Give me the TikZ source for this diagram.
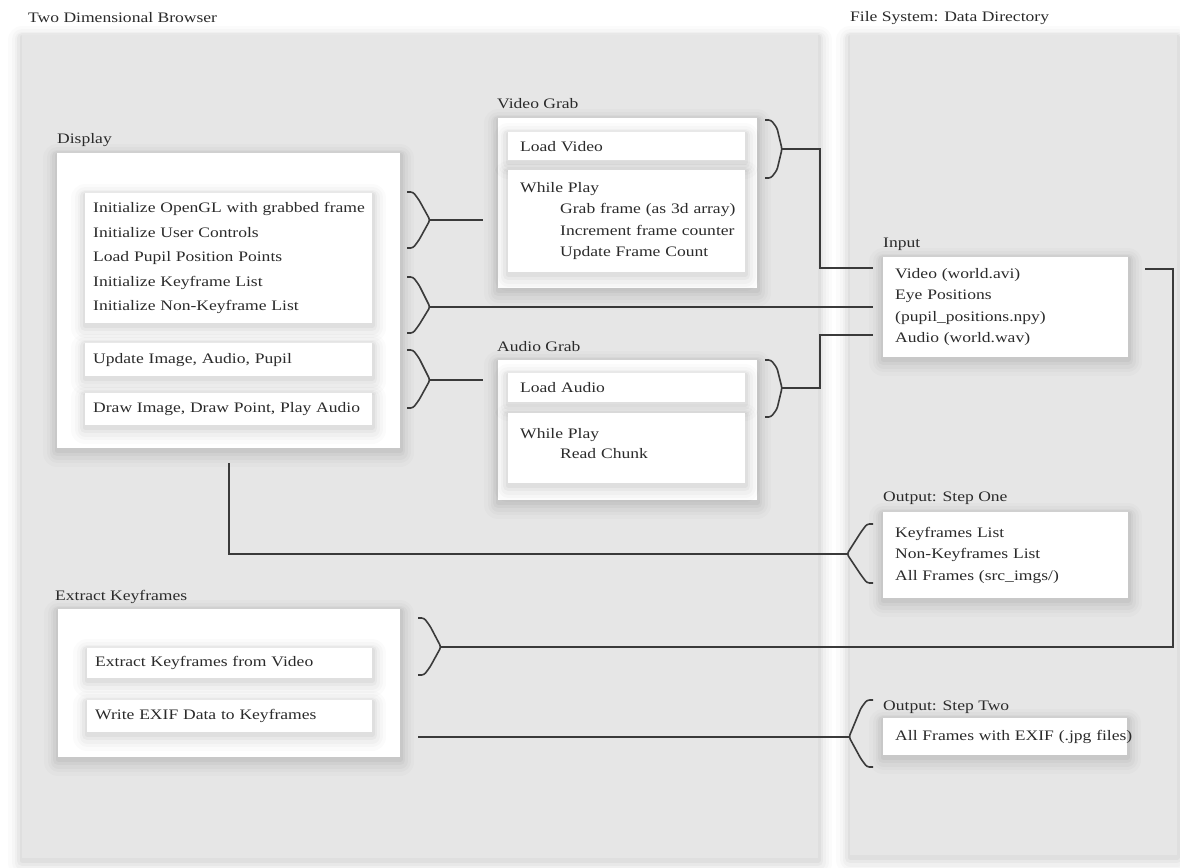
\documentclass[tikz,border=0pt]{standalone}
\usepackage{fontspec}
\setmainfont[FakeStretch=1.21]{Liberation Serif}
\usetikzlibrary{calc}
\definecolor{panelgray}{HTML}{E6E6E6}
\definecolor{ink}{HTML}{2A2A2A}
\definecolor{linec}{HTML}{3A3A3A}
\newcommand\oneln[1]{\mbox{#1}}
\tikzset{
  shd/.style={
    preaction={draw=black, draw opacity=0.015, line width=28pt, line join=round, transform canvas={yshift=-5pt}},
    preaction={draw=black, draw opacity=0.02, line width=21pt, line join=round, transform canvas={yshift=-4pt}},
    preaction={draw=black, draw opacity=0.025, line width=15pt, line join=round, transform canvas={yshift=-4pt}},
    preaction={draw=black, draw opacity=0.03, line width=10pt, line join=round, transform canvas={yshift=-3pt}},
    preaction={draw=black, draw opacity=0.035, line width=5pt, line join=round, transform canvas={yshift=-2pt}},
  },
  panel/.style={shd, fill=panelgray, anchor=north west, inner sep=0pt},
  obox/.style={shd, fill=white, anchor=north west, inner sep=0pt},
  wbox/.style={shd, fill=white, anchor=north west, inner xsep=8pt, inner ysep=0pt, align=left, text=ink},
  lbl/.style={anchor=west, inner sep=0pt, text=ink},
  conn/.style={draw=linec, line width=1.6pt},
  bracestyle/.style={draw=linec, line width=1.6pt, rounded corners=2.5pt},
}
% right-facing brace: name, x0 (stubs), xt (tip), ytop, ymid, ybottom
\newcommand\bracer[6]{%
  \draw[bracestyle] (#2,#4) -- (#2+6,#4) -- (#2+12,#4+8) -- (#3,#5) -- (#2+12,#6-8) -- (#2+6,#6) -- (#2,#6);
  \coordinate (#1) at (#3,#5);}
% left-facing brace
\newcommand\bracel[6]{%
  \draw[bracestyle] (#2,#4) -- (#2-6,#4) -- (#2-12,#4+8) -- (#3,#5) -- (#2-12,#6-8) -- (#2-6,#6) -- (#2,#6);
  \coordinate (#1) at (#3,#5);}
\begin{document}
\begin{tikzpicture}[x=1pt, y={(0pt,-1pt)}, font=\fontsize{14.5}{21.5}\selectfont]
\useasboundingbox (0,0) rectangle (1180,867);
\fill[white] (0,0) rectangle (1180,867);

% panels
\node[panel, minimum width=796, minimum height=823] (left) at (22,35) {};
\node[panel, minimum width=327, minimum height=820] (right) at (850,35) {};
\node[lbl] (ltitle) at (28,18) {Two Dimensional Browser};
\node[lbl] (rtitle) at (850,18) {File System: Data Directory};

% Display
\node[lbl] (displbl) at (57,140) {Display};
\node[obox, minimum width=343, minimum height=295] (disp) at (57,153) {};
\node[wbox, text width=271, minimum height=130, font=\fontsize{14.5}{24.5}\selectfont] (d1) at (85,193)
  {\oneln{Initialize OpenGL with grabbed frame}\\\oneln{Initialize User Controls}\\\oneln{Load Pupil Position Points}\\\oneln{Initialize Keyframe List}\\\oneln{Initialize Non-Keyframe List}};
\node[wbox, text width=271, minimum height=33] (d2) at (85,343) {\oneln{Update Image, Audio, Pupil}};
\node[wbox, text width=271, minimum height=32] (d3) at (85,393) {\oneln{Draw Image, Draw Point, Play Audio}};

% Video Grab
\node[lbl] (vglbl) at (497,104) {Video Grab};
\node[obox, minimum width=259, minimum height=170] (vg) at (498,118) {};
\node[wbox, inner xsep=12pt, text width=213, minimum height=28] (v1) at (508,132) {\oneln{Load Video}};
\node[wbox, inner xsep=12pt, text width=213, minimum height=102] (v2) at (508,170)
  {\oneln{While Play}\\\oneln{\hspace*{40pt}Grab frame (as 3d array)}\\\oneln{\hspace*{40pt}Increment frame counter}\\\oneln{\hspace*{40pt}Update Frame Count}};

% Audio Grab
\node[lbl] (aglbl) at (497,347) {Audio Grab};
\node[obox, minimum width=259, minimum height=140] (ag) at (498,360) {};
\node[wbox, inner xsep=12pt, text width=213, minimum height=29] (a1) at (508,373) {\oneln{Load Audio}};
\node[wbox, inner xsep=12pt, text width=213, minimum height=70, text depth=30pt, font=\fontsize{14.5}{20.5}\selectfont] (a2) at (508,413)
  {\oneln{While Play}\\\oneln{\hspace*{40pt}Read Chunk}};

% Extract Keyframes
\node[lbl] (exlbl) at (55,597) {Extract Keyframes};
\node[obox, minimum width=342, minimum height=148] (ex) at (58,609) {};
\node[wbox, text width=269, minimum height=30] (e1) at (87,648) {\oneln{Extract Keyframes from Video}};
\node[wbox, text width=269, minimum height=32] (e2) at (87,700) {\oneln{Write EXIF Data to Keyframes}};

% Input
\node[lbl] (inlbl) at (883,244) {Input};
\node[wbox, inner xsep=12pt, text width=221, minimum height=100] (inp) at (883,257)
  {\oneln{Video (world.avi)}\\\oneln{Eye Positions}\\\oneln{(pupil\_positions.npy)}\\\oneln{Audio (world.wav)}};

% Output step one
\node[lbl] (o1lbl) at (883,498) {Output: Step One};
\node[wbox, inner xsep=12pt, text width=221, minimum height=86] (out1) at (883,512)
  {\oneln{Keyframes List}\\\oneln{Non-Keyframes List}\\\oneln{All Frames (src\_imgs/)}};

% Output step two
\node[lbl] (o2lbl) at (883,707) {Output: Step Two};
\node[wbox, inner xsep=12pt, text width=220, minimum height=37] (out2) at (883,718)
  {\oneln{All Frames with EXIF (.jpg files)}};

% braces
\bracer{b1}{407}{430}{192}{220}{248}
\bracer{b2}{407}{430}{277}{307}{333}
\bracer{b3}{407}{430}{350}{380}{408}
\bracer{bv}{765}{782}{120}{149}{178}
\bracer{ba}{765}{782}{360}{388}{417}
\bracer{be}{418}{441}{618}{647}{675}
\bracel{bo1}{873}{847}{524}{554}{583}
\bracel{bo2}{873}{849}{700}{737}{767}

% connector helper coordinates
\coordinate (jv) at (820,0);
\coordinate (jr) at (1173,0);
\coordinate (inV) at (873,268);
\coordinate (inA) at (873,335);
\coordinate (inR) at (1145,269);

% connectors
\draw[conn] (b1) -- ($(vg.west |- b1)+(-15,0)$);
\draw[conn] (b2) -- ($(inp.west |- b2)+(-10,0)$);
\draw[conn] (b3) -- ($(ag.west |- b3)+(-15,0)$);
\draw[conn] (bv) -- (bv -| jv) -- (jv |- inV) -- (inV);
\draw[conn] (ba) -- (ba -| jv) -- (jv |- inA) -- (inA);
\draw[conn] (inR) -- (inR -| jr) -- (jr |- be) -- (be);
\draw[conn] ($(disp.south)+(0,15)$) -- (disp.south |- bo1) -- (bo1);
\draw[conn] ($(ex.east |- bo2)+(18,0)$) -- (bo2);
\end{tikzpicture}
\end{document}
